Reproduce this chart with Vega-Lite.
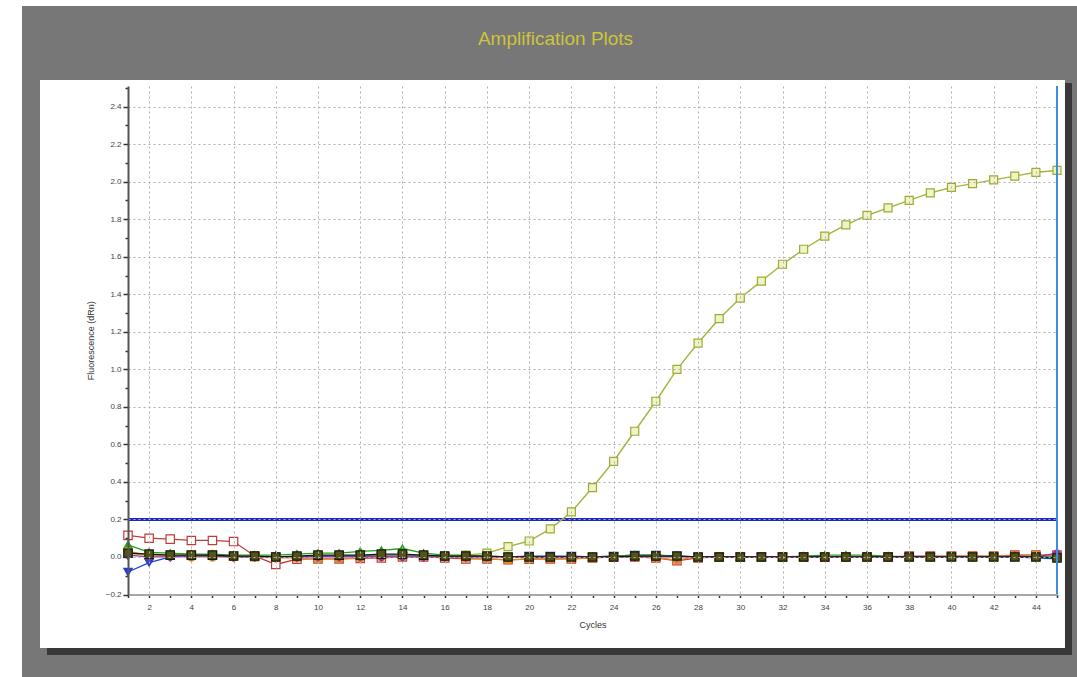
{
  "$schema": "https://vega.github.io/schema/vega-lite/v6.json",
  "width": 929,
  "height": 508.5,
  "autosize": {"type": "none"},
  "padding": {"left": 128, "top": 86, "right": 20, "bottom": 82.5},
  "background": "#ffffff",
  "config": {"view": {"stroke": null}, "font": "Liberation Sans"},
  "title": {
    "text": "Amplification Plots",
    "color": "#cdc43a",
    "fontSize": 19,
    "fontWeight": "normal",
    "font": "Liberation Sans",
    "anchor": "middle",
    "dx": -37,
    "offset": -43
  },
  "datasets": {
    "runs": [
      {"cycle": 1, "Amp": 0.02, "Red": 0.115, "Blue": -0.08, "Green": 0.065, "Orange": 0.03, "Purple": 0.01, "Dark": 0.02},
      {"cycle": 2, "Amp": 0.01, "Red": 0.1, "Blue": -0.03, "Green": 0.025, "Orange": 0.01, "Purple": 0.0, "Dark": 0.015},
      {"cycle": 3, "Amp": 0.01, "Red": 0.095, "Blue": 0.0, "Green": 0.02, "Orange": 0.005, "Purple": 0.0, "Dark": 0.01},
      {"cycle": 4, "Amp": 0.01, "Red": 0.088, "Blue": 0.005, "Green": 0.015, "Orange": 0.0, "Purple": 0.005, "Dark": 0.01},
      {"cycle": 5, "Amp": 0.01, "Red": 0.088, "Blue": 0.005, "Green": 0.015, "Orange": 0.0, "Purple": 0.005, "Dark": 0.01},
      {"cycle": 6, "Amp": 0.005, "Red": 0.082, "Blue": 0.0, "Green": 0.01, "Orange": 0.0, "Purple": 0.0, "Dark": 0.005},
      {"cycle": 7, "Amp": 0.0, "Red": 0.005, "Blue": 0.0, "Green": 0.01, "Orange": 0.0, "Purple": 0.0, "Dark": 0.005},
      {"cycle": 8, "Amp": 0.0, "Red": -0.04, "Blue": 0.0, "Green": 0.01, "Orange": -0.005, "Purple": 0.0, "Dark": 0.0},
      {"cycle": 9, "Amp": 0.0, "Red": -0.012, "Blue": 0.0, "Green": 0.015, "Orange": -0.005, "Purple": 0.0, "Dark": 0.005},
      {"cycle": 10, "Amp": 0.005, "Red": -0.01, "Blue": 0.005, "Green": 0.02, "Orange": -0.01, "Purple": 0.0, "Dark": 0.01},
      {"cycle": 11, "Amp": 0.005, "Red": -0.01, "Blue": 0.005, "Green": 0.02, "Orange": -0.01, "Purple": 0.0, "Dark": 0.01},
      {"cycle": 12, "Amp": 0.005, "Red": -0.008, "Blue": 0.005, "Green": 0.03, "Orange": -0.005, "Purple": 0.0, "Dark": 0.01},
      {"cycle": 13, "Amp": 0.01, "Red": -0.005, "Blue": 0.005, "Green": 0.035, "Orange": 0.0, "Purple": 0.0, "Dark": 0.015},
      {"cycle": 14, "Amp": 0.01, "Red": 0.0, "Blue": 0.005, "Green": 0.045, "Orange": 0.0, "Purple": 0.0, "Dark": 0.015},
      {"cycle": 15, "Amp": 0.005, "Red": 0.0, "Blue": 0.005, "Green": 0.02, "Orange": 0.0, "Purple": 0.0, "Dark": 0.01},
      {"cycle": 16, "Amp": 0.005, "Red": -0.005, "Blue": 0.0, "Green": 0.01, "Orange": 0.0, "Purple": 0.0, "Dark": 0.005},
      {"cycle": 17, "Amp": 0.01, "Red": -0.01, "Blue": 0.0, "Green": 0.01, "Orange": -0.005, "Purple": 0.0, "Dark": 0.005},
      {"cycle": 18, "Amp": 0.02, "Red": -0.01, "Blue": 0.0, "Green": 0.005, "Orange": -0.01, "Purple": 0.0, "Dark": 0.005},
      {"cycle": 19, "Amp": 0.055, "Red": -0.015, "Blue": 0.0, "Green": 0.0, "Orange": -0.015, "Purple": 0.0, "Dark": 0.0},
      {"cycle": 20, "Amp": 0.085, "Red": -0.012, "Blue": 0.005, "Green": 0.0, "Orange": -0.01, "Purple": 0.0, "Dark": 0.0},
      {"cycle": 21, "Amp": 0.15, "Red": -0.01, "Blue": 0.005, "Green": 0.0, "Orange": -0.01, "Purple": 0.0, "Dark": 0.0},
      {"cycle": 22, "Amp": 0.24, "Red": -0.01, "Blue": 0.005, "Green": 0.0, "Orange": -0.01, "Purple": 0.0, "Dark": 0.0},
      {"cycle": 23, "Amp": 0.37, "Red": -0.005, "Blue": 0.0, "Green": 0.0, "Orange": -0.005, "Purple": 0.0, "Dark": 0.0},
      {"cycle": 24, "Amp": 0.51, "Red": 0.0, "Blue": 0.005, "Green": 0.005, "Orange": 0.0, "Purple": 0.0, "Dark": 0.0},
      {"cycle": 25, "Amp": 0.67, "Red": 0.0, "Blue": 0.01, "Green": 0.01, "Orange": 0.0, "Purple": 0.0, "Dark": 0.005},
      {"cycle": 26, "Amp": 0.83, "Red": -0.005, "Blue": 0.01, "Green": 0.01, "Orange": -0.005, "Purple": 0.0, "Dark": 0.005},
      {"cycle": 27, "Amp": 1.0, "Red": -0.02, "Blue": 0.005, "Green": 0.005, "Orange": -0.015, "Purple": 0.0, "Dark": 0.005},
      {"cycle": 28, "Amp": 1.14, "Red": -0.005, "Blue": 0.0, "Green": 0.0, "Orange": 0.0, "Purple": 0.0, "Dark": 0.0},
      {"cycle": 29, "Amp": 1.27, "Red": 0.0, "Blue": 0.0, "Green": 0.0, "Orange": 0.0, "Purple": 0.0, "Dark": 0.0},
      {"cycle": 30, "Amp": 1.38, "Red": 0.0, "Blue": 0.0, "Green": 0.0, "Orange": 0.0, "Purple": 0.0, "Dark": 0.0},
      {"cycle": 31, "Amp": 1.47, "Red": 0.0, "Blue": 0.0, "Green": 0.0, "Orange": 0.0, "Purple": 0.0, "Dark": 0.0},
      {"cycle": 32, "Amp": 1.56, "Red": 0.0, "Blue": 0.0, "Green": 0.0, "Orange": 0.0, "Purple": 0.0, "Dark": 0.0},
      {"cycle": 33, "Amp": 1.64, "Red": 0.0, "Blue": 0.0, "Green": 0.005, "Orange": 0.0, "Purple": 0.0, "Dark": 0.0},
      {"cycle": 34, "Amp": 1.71, "Red": 0.0, "Blue": 0.0, "Green": 0.01, "Orange": 0.0, "Purple": 0.0, "Dark": 0.0},
      {"cycle": 35, "Amp": 1.77, "Red": 0.0, "Blue": 0.0, "Green": 0.01, "Orange": 0.0, "Purple": 0.0, "Dark": 0.0},
      {"cycle": 36, "Amp": 1.82, "Red": 0.0, "Blue": 0.0, "Green": 0.01, "Orange": 0.0, "Purple": 0.0, "Dark": 0.0},
      {"cycle": 37, "Amp": 1.86, "Red": 0.0, "Blue": 0.0, "Green": 0.005, "Orange": 0.0, "Purple": 0.0, "Dark": 0.0},
      {"cycle": 38, "Amp": 1.9, "Red": 0.005, "Blue": 0.0, "Green": 0.0, "Orange": 0.0, "Purple": 0.0, "Dark": 0.0},
      {"cycle": 39, "Amp": 1.94, "Red": 0.005, "Blue": 0.0, "Green": 0.0, "Orange": 0.0, "Purple": 0.0, "Dark": 0.0},
      {"cycle": 40, "Amp": 1.97, "Red": 0.005, "Blue": 0.0, "Green": 0.0, "Orange": 0.005, "Purple": 0.0, "Dark": 0.0},
      {"cycle": 41, "Amp": 1.99, "Red": 0.005, "Blue": 0.0, "Green": 0.0, "Orange": 0.005, "Purple": 0.0, "Dark": 0.0},
      {"cycle": 42, "Amp": 2.01, "Red": 0.005, "Blue": 0.0, "Green": 0.0, "Orange": 0.005, "Purple": 0.0, "Dark": 0.0},
      {"cycle": 43, "Amp": 2.03, "Red": 0.01, "Blue": 0.0, "Green": 0.0, "Orange": 0.01, "Purple": 0.005, "Dark": 0.0},
      {"cycle": 44, "Amp": 2.05, "Red": 0.01, "Blue": -0.005, "Green": 0.0, "Orange": 0.01, "Purple": 0.0, "Dark": 0.0},
      {"cycle": 45, "Amp": 2.06, "Red": 0.01, "Blue": -0.01, "Green": 0.0, "Orange": 0.01, "Purple": 0.02, "Dark": -0.005}
    ]
  },
  "resolve": {"scale": {"x": "independent", "y": "independent"}, "axis": {"x": "independent", "y": "independent"}},
  "layer": [
    {
      "data": {"values": [{}]},
      "layer": [
        {
          "mark": {"type": "rect", "color": "#777777", "clip": false},
          "encoding": {
            "x": {"datum": -4.02, "type": "quantitative", "scale": {"domain": [1, 45], "nice": false, "zero": false}, "axis": null},
            "x2": {"datum": 60},
            "y": {"datum": 2.936, "type": "quantitative", "scale": {"domain": [-0.2, 2.51], "nice": false, "zero": false}, "axis": null},
            "y2": {"datum": -1.5}
          }
        },
        {
          "mark": {"type": "rect", "color": "#383838", "clip": false},
          "encoding": {
            "x": {"datum": -2.836, "type": "quantitative", "scale": {"domain": [1, 45], "nice": false, "zero": false}, "axis": null},
            "x2": {"datum": 45.71},
            "y": {"datum": 2.526, "type": "quantitative", "scale": {"domain": [-0.2, 2.51], "nice": false, "zero": false}, "axis": null},
            "y2": {"datum": -0.522}
          }
        },
        {
          "mark": {"type": "rect", "color": "#ffffff", "clip": false},
          "encoding": {
            "x": {"datum": -3.168, "type": "quantitative", "scale": {"domain": [1, 45], "nice": false, "zero": false}, "axis": null},
            "x2": {"datum": 45.378},
            "y": {"datum": 2.542, "type": "quantitative", "scale": {"domain": [-0.2, 2.51], "nice": false, "zero": false}, "axis": null},
            "y2": {"datum": -0.485}
          }
        },
        {
          "mark": {"type": "rule", "color": "#1c28c4", "strokeWidth": 3},
          "encoding": {
            "y": {"datum": 0.2, "type": "quantitative", "scale": {"domain": [-0.2, 2.51], "nice": false, "zero": false}, "axis": null}
          }
        }
      ]
    },
    {
      "data": {"name": "runs"},
      "encoding": {
        "x": {
          "field": "cycle", "type": "quantitative",
          "scale": {"domain": [1, 45], "nice": false, "zero": false},
          "axis": {
            "title": "Cycles",
            "values": [1,2,3,4,5,6,7,8,9,10,11,12,13,14,15,16,17,18,19,20,21,22,23,24,25,26,27,28,29,30,31,32,33,34,35,36,37,38,39,40,41,42,43,44,45],
            "labelExpr": "datum.value % 2 == 0 ? datum.label : ''",
            "labelOverlap": false,
            "grid": true,
            "gridColor": "#b0b0b0",
            "gridDash": [2, 3],
            "gridOpacity": {"condition": {"test": "datum.value % 2 == 0", "value": 1}, "value": 0},
            "tickSize": 3,
            "tickColor": "#333333",
            "tickWidth": 1.5,
            "domainColor": "#a8a8a8",
            "domainWidth": 2,
            "labelFontSize": 8,
            "labelColor": "#444444",
            "labelPadding": 6,
            "labelFlush": false,
            "titleFontSize": 9,
            "titleFontWeight": "normal",
            "titleColor": "#333333",
            "titlePadding": 9,
            "zindex": 1
          }
        },
        "y": {
          "field": "dRn", "type": "quantitative",
          "scale": {"domain": [-0.2, 2.51], "nice": false, "zero": false},
          "axis": {
            "title": "Fluorescence (dRn)",
            "values": [-0.2,-0.1,0,0.1,0.2,0.3,0.4,0.5,0.6,0.7,0.8,0.9,1.0,1.1,1.2,1.3,1.4,1.5,1.6,1.7,1.8,1.9,2.0,2.1,2.2,2.3,2.4,2.5],
            "format": ".1f",
            "labelExpr": "round(datum.value * 10) % 2 == 0 ? datum.label : ''",
            "labelOverlap": false,
            "grid": true,
            "gridColor": "#b0b0b0",
            "gridDash": [2, 3],
            "gridOpacity": {"condition": {"test": "round(datum.value * 10) % 2 == 0 && datum.value > -0.15", "value": 1}, "value": 0},
            "tickSize": {"condition": {"test": "round(datum.value * 10) % 2 == 0", "value": 5}, "value": 3},
            "tickColor": "#333333",
            "tickWidth": 1.5,
            "domainColor": "#555555",
            "domainWidth": 2,
            "labelFontSize": 8,
            "labelColor": "#444444",
            "labelPadding": 2,
            "labelFlush": false,
            "titleFontSize": 9,
            "titleFontWeight": "normal",
            "titleColor": "#333333",
            "titlePadding": 10,
            "zindex": 1
          }
        }
      },
      "layer": [
        {
          "transform": [
            {"fold": ["Amp"], "as": ["sample", "dRn"]}
          ],
          "mark": {"type": "line", "strokeWidth": 1.4},
          "encoding": {
            "color": {
              "field": "sample", "type": "nominal", "legend": null,
              "scale": {"domain": ["Red", "Blue", "Green", "Orange", "Purple", "Dark", "Amp"], "range": ["#c03c3c", "#2040d0", "#20a020", "#e08a20", "#9030b0", "#151515", "#a4b43c"]}
            }
          }
        },
        {
          "transform": [
            {"fold": ["Amp"], "as": ["sample", "dRn"]}
          ],
          "mark": {"type": "point", "size": 64, "strokeWidth": 1.2, "opacity": 1},
          "encoding": {
            "shape": {
              "field": "sample", "type": "nominal", "legend": null,
              "scale": {"domain": ["Red", "Blue", "Green", "Orange", "Purple", "Dark", "Amp"], "range": ["square", "triangle-down", "triangle-up", "circle", "diamond", "square", "square"]}
            },
            "fill": {
              "field": "sample", "type": "nominal", "legend": null,
              "scale": {"domain": ["Red", "Blue", "Green", "Orange", "Purple", "Dark", "Amp"], "range": ["#ffffff", "#2040d0", "#20a020", "#e08a20", "#9030b0", "#52521a", "#f2f2c6"]}
            },
            "stroke": {
              "field": "sample", "type": "nominal", "legend": null,
              "scale": {"domain": ["Red", "Blue", "Green", "Orange", "Purple", "Dark", "Amp"], "range": ["#c03c3c", "#2040d0", "#20a020", "#e08a20", "#9030b0", "#1a1a05", "#9cac34"]}
            }
          }
        },
        {
          "transform": [
            {"fold": ["Red", "Blue", "Green", "Orange", "Purple", "Dark"], "as": ["sample", "dRn"]}
          ],
          "mark": {"type": "line", "strokeWidth": 1.3},
          "encoding": {
            "color": {"field": "sample", "type": "nominal", "legend": null}
          }
        },
        {
          "transform": [
            {"fold": ["Red", "Blue", "Green", "Orange", "Purple", "Dark"], "as": ["sample", "dRn"]}
          ],
          "mark": {"type": "point", "size": 70, "strokeWidth": 1.2, "opacity": 1},
          "encoding": {
            "shape": {"field": "sample", "type": "nominal", "legend": null},
            "fill": {"field": "sample", "type": "nominal", "legend": null},
            "stroke": {"field": "sample", "type": "nominal", "legend": null}
          }
        }
      ]
    },
    {
      "data": {"values": [{}]},
      "mark": {"type": "rule", "color": "#3c8ee0", "strokeWidth": 2},
      "encoding": {
        "x": {"datum": 45, "type": "quantitative", "scale": {"domain": [1, 45], "nice": false, "zero": false}, "axis": null}
      }
    }
  ]
}
